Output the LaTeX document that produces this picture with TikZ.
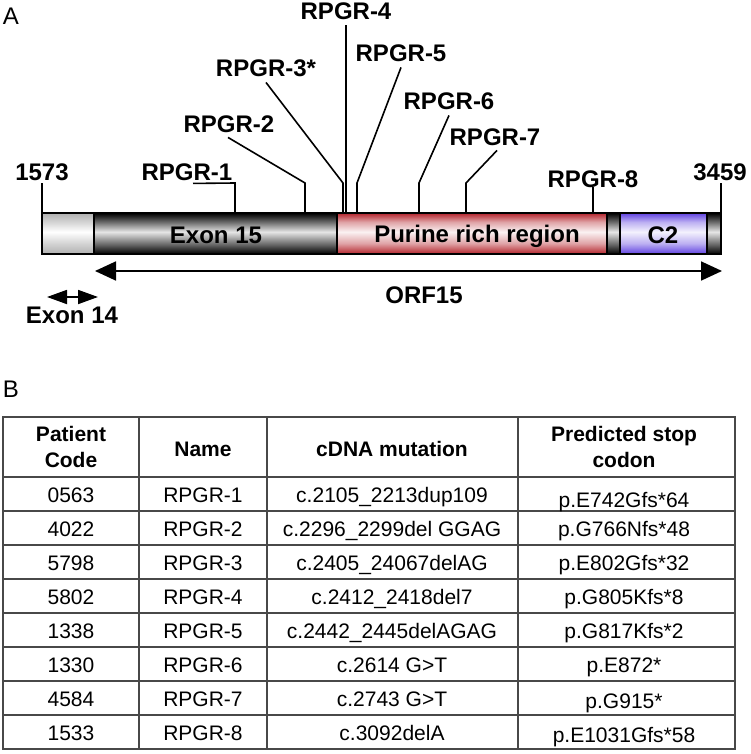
\documentclass[tikz,border=0pt]{standalone}
\usepackage{fontspec}
\setmainfont{Liberation Sans}
\usetikzlibrary{arrows.meta}

\definecolor{tubered}{RGB}{180,36,44}
\definecolor{tubeblue}{RGB}{96,66,224}
\definecolor{tubegray}{RGB}{176,176,176}
\definecolor{rulegray}{RGB}{72,72,72}
\colorlet{redsoft}{tubered!42!white}
\colorlet{redpale}{tubered!6!white}
\colorlet{bluesoft}{tubeblue!42!white}
\colorlet{bluepale}{tubeblue!7!white}
\colorlet{darksoft}{black!62}
\colorlet{darkpale}{black!10}
\colorlet{graysoft}{tubegray!55!white}

\pgfdeclareverticalshading{redtube}{100bp}{color(0bp)=(tubered); color(25bp)=(tubered); color(38bp)=(redsoft); color(52bp)=(redpale); color(64bp)=(redsoft); color(75bp)=(tubered); color(100bp)=(tubered)}
\pgfdeclareverticalshading{bluetube}{100bp}{color(0bp)=(tubeblue); color(25bp)=(tubeblue); color(38bp)=(bluesoft); color(52bp)=(bluepale); color(64bp)=(bluesoft); color(75bp)=(tubeblue); color(100bp)=(tubeblue)}
\pgfdeclareverticalshading{darktube}{100bp}{color(0bp)=(black); color(25bp)=(black); color(36bp)=(darksoft); color(52bp)=(darkpale); color(65bp)=(darksoft); color(75bp)=(black); color(100bp)=(black)}
\pgfdeclareverticalshading{greytube}{100bp}{color(0bp)=(tubegray); color(25bp)=(tubegray); color(38bp)=(graysoft); color(52bp)=(white); color(64bp)=(graysoft); color(75bp)=(tubegray); color(100bp)=(tubegray)}

\tikzset{
  lab/.style={font=\fontsize{24}{28}\selectfont\bfseries,anchor=base,inner sep=0pt},
  panel/.style={font=\fontsize{24}{28}\selectfont,anchor=base,inner sep=0pt},
  cell/.style={font=\fontsize{21}{26}\selectfont,anchor=base,inner sep=0pt},
  head/.style={font=\fontsize{21}{26.6}\selectfont\bfseries,align=center,inner sep=0pt},
  leader/.style={line width=1.6pt},
  tablerule/.style={draw=rulegray,line width=1.6pt}
}

\begin{document}
\begin{tikzpicture}[x=1pt,y=-1pt]
\useasboundingbox (0,0) rectangle (750,754);

      \begin{scope}
\node[panel] (A) at (11,25) {A};
\shade[shading=greytube] (42,213) rectangle (94,254);
\shade[shading=darktube] (94,213) rectangle (337,254);
\shade[shading=redtube] (337,213) rectangle (607,254);
\shade[shading=darktube] (607,213) rectangle (620,254);
\shade[shading=bluetube] (620,213) rectangle (707,254);
\shade[shading=darktube] (707,213) rectangle (721,254);
\draw[line width=1.5pt] (94,213) -- (94,254) (337,213) -- (337,254) (607,213) -- (607,254)
  (620,213) -- (620,254) (707,213) -- (707,254);
\draw[line width=2.2pt] (42,213) rectangle (721,254);
\node[lab] (ex15) at (216,243) {Exon 15};
\node[lab] (purine) at (477,242) {Purine rich region};
\node[lab] (c2) at (663,243) {C2};

\node[lab] (n1573) at (42,180) {1573};
\node[lab] (n3459) at (720,180) {3459};
\coordinate (t1573) at (42,213);
\coordinate (t3459) at (721,213);
\draw[leader] ([shift={(0,3)}]n1573.south) -- (t1573);
\draw[leader] ([shift={(1,3)}]n3459.south) -- (t3459);

\node[lab] (m1) at (187,180) {RPGR-1};
\node[lab] (m2) at (229,133) {RPGR-2};
\node[lab] (m3) at (266,77) {RPGR-3*};
\node[lab] (m4) at (346,20) {RPGR-4};
\node[lab] (m5) at (401,62) {RPGR-5};
\node[lab] (m6) at (449,110) {RPGR-6};
\node[lab] (m7) at (495,146) {RPGR-7};
\node[lab] (m8) at (593,187) {RPGR-8};
\coordinate (k1) at (235,183);
\coordinate (k2) at (305,183);
\coordinate (k3) at (343,183);
\coordinate (k5) at (357,183);
\coordinate (k6) at (419,183);
\coordinate (k7) at (466,183);
\coordinate (b1) at (235,213);
\coordinate (b2) at (305,213);
\coordinate (b3) at (343,213);
\coordinate (b4) at (346,213);
\coordinate (b5) at (357,213);
\coordinate (b6) at (419,213);
\coordinate (b7) at (466,213);
\coordinate (b8) at (593,213);
\draw[leader] ([shift={(6,3)}]m1.south) -- (k1) -- (b1);
\draw[leader] ([shift={(-1,4)}]m2.south) -- (k2) -- (b2);
\draw[leader] ([shift={(0,5)}]m3.south) -- (k3) -- (b3);
\draw[leader] ([shift={(0,5)}]m4.south) -- (b4);
\draw[leader] ([shift={(0,5)}]m5.south) -- (k5) -- (b5);
\draw[leader] ([shift={(0,5)}]m6.south) -- (k6) -- (b6);
\draw[leader] ([shift={(2,4)}]m7.south) -- (k7) -- (b7);
\draw[leader] (m8.south) -- (b8);

\coordinate (orfL) at (95,271);
\coordinate (orfR) at (722,271);
\draw[line width=1.8pt,{Triangle[length=21pt,width=19pt]}-{Triangle[length=21pt,width=19pt]}] (orfL) -- (orfR);
\node[lab] (orf) at (424,303) {ORF15};
\coordinate (e14L) at (47,297);
\coordinate (e14R) at (98,297);
\draw[line width=1.8pt,{Triangle[length=20pt,width=14pt]}-{Triangle[length=20pt,width=14pt]}] (e14L) -- (e14R);
\node[lab] (ex14) at (72,323) {Exon 14};
\end{scope}

      \begin{scope}
\node[panel] (B) at (11,397) {B};
\draw[tablerule] (3,417) rectangle (735,749);
\draw[tablerule] (139,417) -- (139,749) (267,417) -- (267,749) (518,417) -- (518,749);
\draw[tablerule] (3,477) -- (735,477) (3,511) -- (735,511) (3,545) -- (735,545) (3,579) -- (735,579)
  (3,613) -- (735,613) (3,647) -- (735,647) (3,681) -- (735,681) (3,715) -- (735,715);
\node[head] (hcode) at (71,447) {Patient\\Code};
\node[head] (hname) at (203,449) {Name};
\node[head] (hcdna) at (392,449) {cDNA mutation};
\node[head] (hstop) at (624,447) {Predicted stop\\codon};

\node[cell] (code1) at (71,502) {0563};
\node[cell] (name1) at (203,502) {RPGR-1};
\node[cell] (cdna1) at (392,502) {c.2105\_2213dup109};
\node[cell] (stop1) at (624,507) {p.E742Gfs*64};
\node[cell] (code2) at (71,536) {4022};
\node[cell] (name2) at (203,536) {RPGR-2};
\node[cell] (cdna2) at (392,536) {c.2296\_2299del GGAG};
\node[cell] (stop2) at (624,536) {p.G766Nfs*48};
\node[cell] (code3) at (71,570) {5798};
\node[cell] (name3) at (203,570) {RPGR-3};
\node[cell] (cdna3) at (392,570) {c.2405\_24067delAG};
\node[cell] (stop3) at (624,570) {p.E802Gfs*32};
\node[cell] (code4) at (71,604) {5802};
\node[cell] (name4) at (203,604) {RPGR-4};
\node[cell] (cdna4) at (392,604) {c.2412\_2418del7};
\node[cell] (stop4) at (624,604) {p.G805Kfs*8};
\node[cell] (code5) at (71,638) {1338};
\node[cell] (name5) at (203,638) {RPGR-5};
\node[cell] (cdna5) at (392,638) {c.2442\_2445delAGAG};
\node[cell] (stop5) at (624,638) {p.G817Kfs*2};
\node[cell] (code6) at (71,672) {1330};
\node[cell] (name6) at (203,672) {RPGR-6};
\node[cell] (cdna6) at (392,672) {c.2614 G>T};
\node[cell] (stop6) at (624,672) {p.E872*};
\node[cell] (code7) at (71,706) {4584};
\node[cell] (name7) at (203,706) {RPGR-7};
\node[cell] (cdna7) at (392,706) {c.2743 G>T};
\node[cell] (stop7) at (624,708) {p.G915*};
\node[cell] (code8) at (71,740) {1533};
\node[cell] (name8) at (203,740) {RPGR-8};
\node[cell] (cdna8) at (392,740) {c.3092delA};
\node[cell] (stop8) at (624,742) {p.E1031Gfs*58};
\end{scope}
    \end{tikzpicture}
\end{document}
